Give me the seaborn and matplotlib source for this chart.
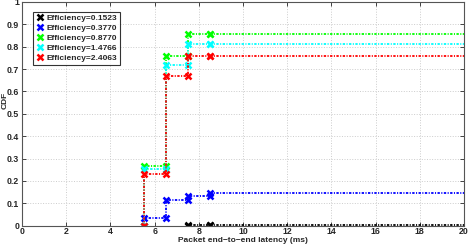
import numpy as np
import pandas as pd
import matplotlib
matplotlib.use("Agg")
import matplotlib.pyplot as plt
import seaborn as sns

# Datos
latencia = [5.5, 6.5, 7.5, 8.5]
etiquetas = ["Efficiency=0.1523", "Efficiency=0.3770", "Efficiency=0.8770",
             "Efficiency=1.4766", "Efficiency=2.4063"]
cdf_0152 = [0.0, 0.0, 0.002, 0.004]
cdf_0377 = [0.034, 0.113, 0.132, 0.146]
cdf_0877 = [0.267, 0.758, 0.856, 0.856]
cdf_1477 = [0.255, 0.716, 0.811, 0.811]
cdf_2406 = [0.232, 0.668, 0.758, 0.758]
colores = ["#000000", "#0000ff", "#00ff00", "#00ffff", "#ff0000"]
X_FIN = 25.0  # la línea sigue más allá del límite del eje


def escalones(xs, ys):
    # construye el camino en escalera a partir del primer valor no nulo
    k = next(i for i, v in enumerate(ys) if v > 0)
    px, py = [xs[k]], [0.0]
    for i in range(k, len(xs)):
        px.append(xs[i])
        py.append(ys[i])
        if i + 1 < len(xs):
            px.append(xs[i + 1])
            py.append(ys[i])
    return px, py


sns.set_style("white")
plt.rcParams["font.family"] = ["Liberation Sans", "DejaVu Sans"]

fig = plt.figure(figsize=(4.71, 2.44), dpi=100)
ax = fig.add_axes([0.047, 0.075, 0.938, 0.917])

estilo = (0, (1.3, 0.8, 0.6, 0.8))
series = [cdf_0152, cdf_0377, cdf_0877, cdf_1477, cdf_2406]
for nombre, ys, col in zip(etiquetas, series, colores):
    px, py = escalones(latencia, ys)
    df = pd.DataFrame({"x": px, "y": py})
    sns.lineplot(data=df, x="x", y="y", sort=False, estimator=None, ax=ax,
                 color=col, marker="x", markersize=5, markeredgewidth=1.8,
                 markeredgecolor=col, linewidth=1.3, linestyle=estilo,
                 label=nombre)
    # prolongación horizontal sin marcador
    ext = pd.DataFrame({"x": [px[-1], X_FIN], "y": [py[-1], py[-1]]})
    sns.lineplot(data=ext, x="x", y="y", sort=False, estimator=None, ax=ax,
                 color=col, linewidth=1.3, linestyle=estilo, legend=False)

ax.set_xlim(0, 20)
ax.set_ylim(0, 1)
ax.set_xticks(np.arange(0, 21, 2))
ax.set_yticks(np.round(np.arange(0, 1.01, 0.1), 1))
ax.set_yticklabels(["0", "0.1", "0.2", "0.3", "0.4", "0.5", "0.6", "0.7",
                    "0.8", "0.9", "1"])
ax.grid(True, color="#cccccc", linestyle=":", linewidth=0.7)
ax.tick_params(direction="in", length=3, width=0.6, labelsize=6.3, pad=2,
               top=True, right=True, bottom=True, left=True)
ax.tick_params(axis="x", pad=1)
for t in ax.get_xticklabels() + ax.get_yticklabels():
    t.set_fontweight("bold")
for s in ax.spines.values():
    s.set_color("#555555")
    s.set_linewidth(0.8)

ax.set_xlabel("Packet end\u2212to\u2212end latency (ms)", fontsize=6,
              fontweight="bold")
ax.xaxis.set_label_coords(0.5, -0.052)
ax.set_ylabel("CDF", fontsize=6, fontweight="bold")
ax.yaxis.set_label_coords(-0.03, 0.56)

leg = ax.legend(loc="upper left", bbox_to_anchor=(0.025, 0.955), fontsize=6,
                frameon=True, fancybox=False, borderpad=0.3, labelspacing=0.25,
                handlelength=1.0, handletextpad=0.3, borderaxespad=0)
leg.get_frame().set_edgecolor("#000000")
leg.get_frame().set_linewidth(0.8)
for t in leg.get_texts():
    t.set_fontweight("bold")
for h in leg.legend_handles:
    h.set_linestyle("none")

fig.savefig("out.png", dpi=100)
